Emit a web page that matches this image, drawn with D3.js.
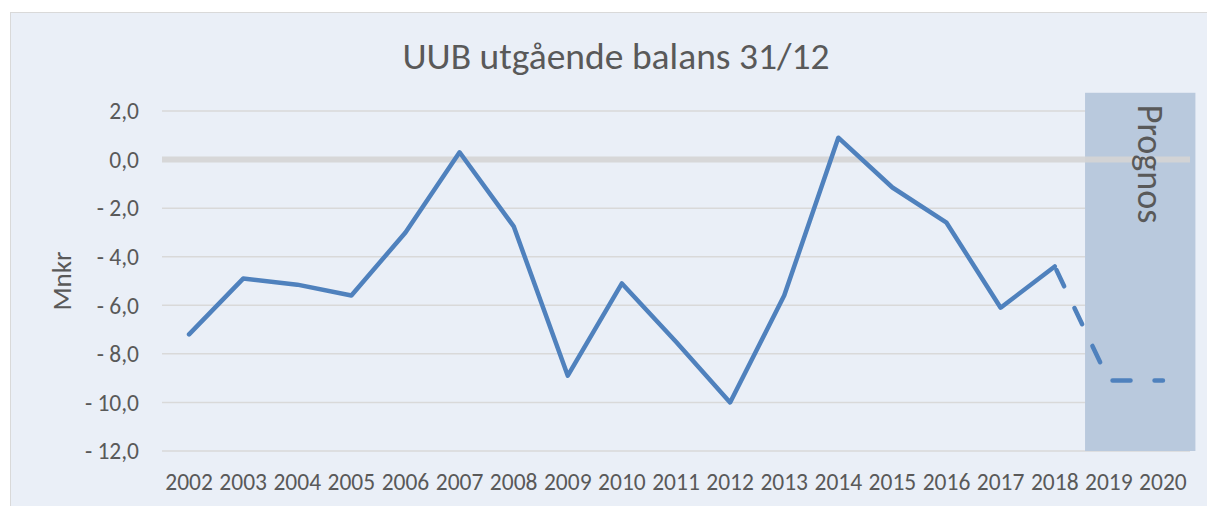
<!DOCTYPE html>
<html><head><meta charset="utf-8">
<script src="https://cdn.jsdelivr.net/npm/d3@7"></script>
<style>
html,body{margin:0;padding:0;background:#fff;}
svg{display:block;}
text{font-family:Carlito, Calibri, Lato, sans-serif; fill:#595959;}
</style></head>
<body>
<script>
const years = ["2002","2003","2004","2005","2006","2007","2008","2009","2010","2011","2012","2013","2014","2015","2016","2017","2018","2019","2020"];
const actualValues = [-7.2,-4.9,-5.15,-5.6,-3.0,0.3,-2.75,-8.9,-5.1,-7.5,-10.0,-5.6,0.9,-1.15,-2.6,-6.1,-4.4];
const forecastYears = ["2018","2019","2020"];
const forecastValues = [-4.4,-9.1,-9.1];
const yTicks = [2,0,-2,-4,-6,-8,-10,-12];
const title = "UUB utgående balans 31/12";
const yAxisTitle = "Mnkr";
const prognosLabel = "Prognos";
const prognosYears = ["2019","2020"];
const prognosTop = 2.75;

const W = 1207, H = 506;
const svg = d3.select("body").append("svg").attr("width", W).attr("height", H);

// chart area background
svg.append("rect").attr("x", 10.5).attr("y", 12.5).attr("width", W).attr("height", H)
  .attr("fill", "#eaeff7").attr("stroke", "#d9d9d9").attr("stroke-width", 1);

const x = d3.scalePoint().domain(years).range([162, 1190]).padding(0.5);
const y = d3.scaleLinear().domain([-12, 2]).range([451, 111]);
const step = x.step();

// gridlines
svg.append("g").selectAll("line").data(yTicks.filter(d => d !== 0)).join("line")
  .attr("x1", 162).attr("x2", 1190)
  .attr("y1", d => y(d)).attr("y2", d => y(d))
  .attr("stroke", "#d9d9d9").attr("stroke-width", 1.5);

// prognos band
const bx0 = x(prognosYears[0]) - step * 0.44;
const bx1 = x(prognosYears[1]) + step * 0.6;
svg.append("rect").attr("x", bx0).attr("y", y(prognosTop))
  .attr("width", bx1 - bx0).attr("height", y(-12) - y(prognosTop))
  .attr("fill", "#b9c9dd");

// zero line
svg.append("line").attr("x1", 162).attr("x2", 1190).attr("y1", y(0)).attr("y2", y(0))
  .attr("stroke", "#d5d5d5").attr("stroke-width", 6).attr("opacity", 0.9);

// prognos label
svg.append("text")
  .attr("transform", `translate(${x(prognosYears[0]) + step*0.7},${y(prognosTop)+12}) rotate(90)`)
  .attr("font-size", 36).attr("dominant-baseline", "middle")
  .text(prognosLabel);

// y labels
svg.append("g").selectAll("text").data(yTicks).join("text")
  .attr("x", 139).attr("y", d => y(d)).attr("dy", "0.35em")
  .attr("text-anchor", "end").attr("font-size", 23.5)
  .text(d => (d < 0 ? "- " : "") + d3.format(".1f")(Math.abs(d)).replace(".", ","));

// x labels
svg.append("g").selectAll("text").data(years).join("text")
  .attr("x", d => x(d)).attr("y", 490)
  .attr("text-anchor", "middle").attr("font-size", 23.5)
  .text(d => d);

// y axis title
svg.append("text").attr("transform", `translate(71,${(y(2)+y(-12))/2}) rotate(-90)`)
  .attr("text-anchor", "middle").attr("font-size", 27).text(yAxisTitle);

// title
svg.append("text").attr("x", 616).attr("y", 69).attr("text-anchor", "middle")
  .attr("font-size", 37.5).text(title);

// lines
const line = d3.line().x(d => x(d[0])).y(d => y(d[1]));
svg.append("path").datum(years.slice(0, actualValues.length).map((yr, i) => [yr, actualValues[i]]))
  .attr("d", line).attr("fill", "none").attr("stroke", "#4f81bd").attr("stroke-width", 4.5)
  .attr("stroke-linejoin", "round").attr("stroke-linecap", "round");
svg.append("path").datum(forecastYears.map((yr, i) => [yr, forecastValues[i]]))
  .attr("d", line).attr("fill", "none").attr("stroke", "#4f81bd").attr("stroke-width", 4.5)
  .attr("stroke-dasharray", "18,24").attr("stroke-dashoffset", -4).attr("stroke-linecap", "round");
</script>
</body></html>
